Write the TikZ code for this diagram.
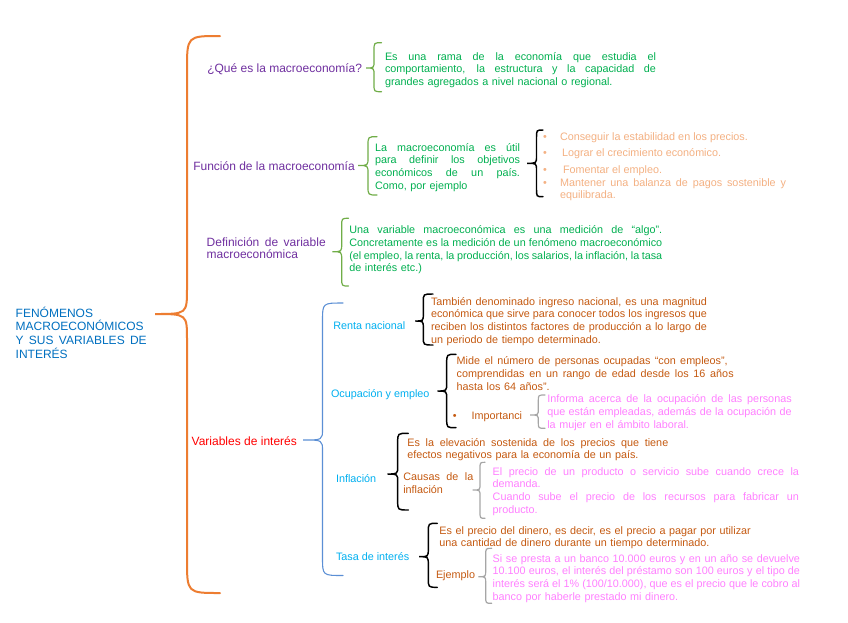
\documentclass[tikz,border=0pt]{standalone}
\usepackage{fontspec}
\setmainfont{Liberation Sans}
\definecolor{cOr}{RGB}{237,125,49}
\definecolor{cTitle}{RGB}{0,112,192}
\definecolor{cPur}{RGB}{112,48,160}
\definecolor{cGrn}{RGB}{0,176,80}
\definecolor{cGrnB}{RGB}{112,173,71}
\definecolor{cPeach}{RGB}{244,177,131}
\definecolor{cBlueB}{RGB}{91,143,213}
\definecolor{cCyan}{RGB}{0,176,240}
\definecolor{cBrown}{RGB}{197,90,17}
\definecolor{cPink}{RGB}{255,128,255}
\definecolor{cGray}{RGB}{166,166,166}
\newcommand\fa{\fontsize{9}{9.75}\selectfont}
\newcommand\fb{\fontsize{8.1}{9.6}\selectfont}
\newcommand\jw[2]{{\spaceskip=0pt\xspaceskip=0pt\makebox[#1][s]{#2}}}
\newcommand\jl[1]{\jw{\hsize}{#1}}
% #1 style, #2 x end, #3 x vertical, #4 x tip, #5 y top, #6 y tip, #7 y bottom, #8 end radius, #9 tip radius
\newcommand\brc[9]{%
  \draw[#1] (#2,#5) .. controls (#3,#5) .. (#3,{#5+#8}) -- (#3,{#6-#9})
    .. controls (#3,#6) .. (#4,#6) .. controls (#3,#6) .. (#3,{#6+#9})
    -- (#3,{#7-#8}) .. controls (#3,#7) .. (#2,#7);}
\begin{document}
\begin{tikzpicture}[x=0.75pt,y=-0.75pt,
  lbl/.style={anchor=base west,inner sep=0pt,outer sep=0pt,font=\fa,align=left},
  txt/.style={anchor=base west,inner sep=0pt,outer sep=0pt,font=\fb,align=left},
  orb/.style={draw=cOr,line width=1.5pt,line cap=round},
  blb/.style={draw=cBlueB,line width=0.8pt,line cap=round},
  grb/.style={draw=cGrnB,line width=0.9pt,line cap=round},
  bkb/.style={draw=black,line width=1.1pt,line cap=round},
  gyb/.style={draw=cGray,line width=0.9pt,line cap=round}]
\fill[white] (0,0) rectangle (848,622);
\useasboundingbox (0,0) rectangle (848,622);

% title
\node[lbl,text width=98.25pt,text=cTitle,font=\fontsize{9}{10.3}\selectfont] (title) at (15.7,317)
  {FENÓMENOS\\ MACROECONÓMICOS\\ \jl{Y SUS VARIABLES DE}\\ INTERÉS};
\brc{orb}{220}{187}{155}{36}{314}{593}{34}{26}

% Que es
\node[lbl,text=cPur] (q1) at (207.3,72) {¿Qué es la macroeconomía?};
\brc{grb}{381.5}{374}{366}{42.7}{68}{91.7}{8}{7}
\node[txt,text width=203.25pt,text=cGrn] (a1) at (385,60)
  {\jl{Es una rama de la economía que estudia el}\\
   \jl{comportamiento, la estructura y la capacidad de}\\
   grandes agregados a nivel nacional o regional.};

% Funcion
\node[lbl,text=cPur] (q2) at (193.3,170) {Función de la macroeconomía};
\brc{grb}{377}{368}{358}{136.7}{165.5}{195}{9}{8}
\node[txt,text width=108.75pt,text=cGrn] (a2) at (375,151)
  {\jl{La macroeconomía es útil}\\
   \jl{para definir los objetivos}\\
   \jl{económicos de un país.}\\
   Como, por ejemplo};
\brc{bkb}{543}{536.5}{527}{130}{163.3}{196.7}{8}{7}
\node[txt,text=cPeach] (b1) at (543,140) {•};
\node[txt,text=cPeach] (b2) at (543,156) {•};
\node[txt,text=cPeach] (b3) at (543,173) {•};
\node[txt,text=cPeach] (b4) at (543,186) {•};
\node[txt,text=cPeach] (p1) at (560,140) {Conseguir la estabilidad en los precios.};
\node[txt,text=cPeach] (p2) at (562,156) {Lograr el crecimiento económico.};
\node[txt,text=cPeach] (p3) at (563,173) {Fomentar el empleo.};
\node[txt,text width=169.5pt,text=cPeach] (p4) at (560,186)
  {\jl{Mantener una balanza de pagos sostenible y}\\ equilibrada.};

% Definicion
\node[lbl,text width=89.25pt,text=cPur,font=\fontsize{9}{9.2}\selectfont] (q3) at (206.7,246)
  {\jl{Definición de variable}\\ macroeconómica};
\brc{grb}{348.5}{341.7}{332.3}{218.3}{251.7}{286}{8}{8}
\node[txt,text width=234.75pt,text=cGrn] (a3) at (349.3,233.5)
  {\jl{Una variable macroeconómica es una medición de “algo”.}\\
   \jl{Concretamente es la medición de un fenómeno macroeconómico}\\
   \jl{(el empleo, la renta, la producción, los salarios, la inflación, la tasa}\\
   de interés etc.)};

% Variables de interes
\node[lbl,text=red] (q4) at (191.7,445) {Variables de interés};
\brc{blb}{343}{322.5}{303}{303}{440}{575.5}{18}{11}

% Renta nacional
\node[txt,text=cCyan] (v1) at (333.3,329) {Renta nacional};
\brc{bkb}{433}{423.3}{415}{294}{321}{345}{8}{7}
\node[txt,text width=207pt,text=cBrown,font=\fontsize{8.1}{9.5}\selectfont] (r1) at (431,305)
  {\jl{También denominado ingreso nacional, es una magnitud}\\
   \jl{económica que sirve para conocer todos los ingresos que}\\
   \jl{reciben los distintos factores de producción a lo largo de}\\
   un periodo de tiempo determinado.};

% Ocupacion y empleo
\node[txt,text=cCyan] (v2) at (331,397) {Ocupación y empleo};
\brc{bkb}{456}{446.7}{437.3}{354.3}{391}{427.7}{9}{8}
\node[txt,text width=207.75pt,text=cBrown,font=\fontsize{8.1}{9.9}\selectfont] (o1) at (456.7,364.5)
  {\jw{203.25pt}{Mide el número de personas ocupadas “con empleos”,}\\
   \jl{comprendidas en un rango de edad desde los 16 años}\\
   hasta los 64 años”.};
\node[txt,text=cBrown] (ob) at (452.8,419) {•};
\node[txt,text=cBrown] (o2) at (471.7,419) {Importanci};
\brc{gyb}{545}{538.3}{530}{395}{415}{428.3}{6}{6}
\node[txt,text width=183.3pt,text=cPink,font=\fontsize{8.1}{9.6}\selectfont] (o3) at (547.3,402.5)
  {\jl{Informa acerca de la ocupación de las personas}\\
   \jl{que están empleadas, además de la ocupación de}\\
   la mujer en el ámbito laboral.};

% Inflacion
\node[txt,text=cCyan] (v3) at (336,482.5) {Inflación};
\brc{bkb}{408.3}{397.7}{387.3}{433.3}{474}{510}{9}{8}
\node[txt,text width=195.75pt,text=cBrown,font=\fontsize{8.1}{9.4}\selectfont] (i1) at (407.3,446)
  {\jl{Es la elevación sostenida de los precios que tiene}\\
   efectos negativos para la economía de un país.};
\node[txt,text width=52.5pt,text=cBrown,font=\fontsize{8.1}{9.75}\selectfont] (i2) at (403.3,480.5)
  {\jl{Causas de la}\\ inflación};
\brc{gyb}{485}{480}{472.7}{462.3}{490}{518.3}{7}{6}
\node[txt,text width=229.7pt,text=cPink,font=\fontsize{8.1}{9.6}\selectfont] (i3) at (492.7,475)
  {\jl{El precio de un producto o servicio sube cuando crece la}\\
   demanda.\\
   \jl{Cuando sube el precio de los recursos para fabricar un}\\
   producto.};

% Tasa de interes
\node[txt,text=cCyan] (v4) at (336,560) {Tasa de interés};
\brc{bkb}{437.3}{428.3}{419}{523.3}{556.7}{587.3}{9}{8}
\node[txt,text width=240pt,text=cBrown,font=\fontsize{8.1}{8.9}\selectfont] (t1) at (439.3,534.5)
  {Es el precio del dinero, es decir, es el precio a pagar por utilizar\\
   una cantidad de dinero durante un tiempo determinado.};
\node[txt,text=cBrown] (t2) at (436,578) {Ejemplo};
\brc{gyb}{491.7}{485.7}{478.3}{548.3}{576.7}{603.3}{7}{6}
\node[txt,text width=230.5pt,text=cPink,font=\fontsize{8.1}{9.6}\selectfont] (t3) at (492.7,562)
  {\jl{Si se presta a un banco 10.000 euros y en un año se devuelve}\\
   \jl{10.100 euros, el interés del préstamo son 100 euros y el tipo de}\\
   \jl{interés será el 1\% (100/10.000), que es el precio que le cobro al}\\
   banco por haberle prestado mi dinero.};
\end{tikzpicture}
\end{document}
